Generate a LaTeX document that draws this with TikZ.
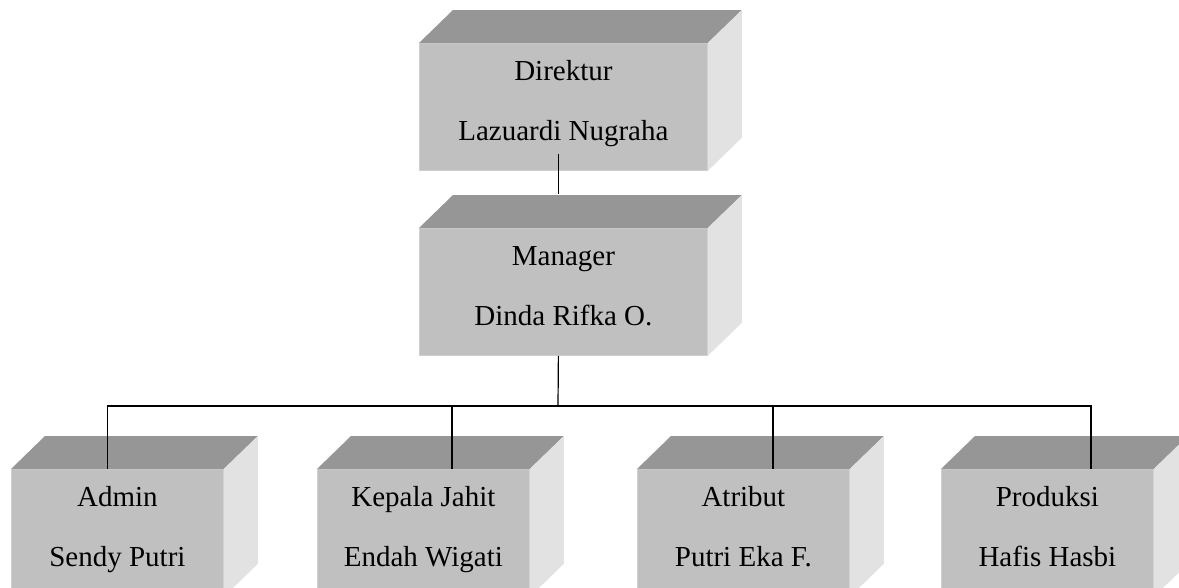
\documentclass[tikz,border=0pt]{standalone}
\usepackage{fontspec}
\setmainfont{Liberation Serif}
\definecolor{facefront}{HTML}{C0C0C0}
\definecolor{facetop}{HTML}{969696}
\definecolor{faceside}{HTML}{E2E2E2}
\definecolor{faceedge}{HTML}{CFCFCF}
\tikzset{
  % front face of a block; the depth is drawn separately
  blockfront/.style={rectangle, fill=facefront, draw=faceedge, line width=0.8pt,
    anchor=north west, inner sep=0pt},
  bigblock/.style={blockfront, minimum width=288pt, minimum height=127pt},
  smallblock/.style={blockfront, minimum width=212pt, minimum height=127pt},
  caption/.style={anchor=base, inner sep=0pt, font=\fontsize{29pt}{34pt}\selectfont},
  link/.style={draw=black, line width=1.2pt},
}
\newcommand{\blockdepth}[1]{%
  \fill[facetop] (#1.north west) -- ([shift={(34pt,33pt)}]#1.north west)
    -- ([shift={(34pt,33pt)}]#1.north east) -- (#1.north east) -- cycle;
  \fill[faceside] (#1.north east) -- ([shift={(34pt,33pt)}]#1.north east)
    -- ([shift={(34pt,33pt)}]#1.south east) -- (#1.south east) -- cycle;
}
\newcommand{\blocktext}[3]{%
  \node[caption] (#1a) at ([yshift=-37pt]#1.north) {#2};
  \node[caption] (#1b) at ([yshift=-97pt]#1.north) {#3};
}
\begin{document}
\begin{tikzpicture}[x=1pt, y=-1pt]
  \useasboundingbox (0,0) rectangle (1179,587);
  \fill[white] (0,0) rectangle (1179,587);
  \clip (0,0) rectangle (1179,587);

  % blocks
  \node[bigblock] (dir) at (419,43) {};
  \node[bigblock] (mgr) at (419,228) {};
  \node[smallblock] (adm) at (11,469) {};
  \node[smallblock] (kep) at (317,469) {};
  \node[smallblock] (atr) at (637,469) {};
  \node[smallblock] (pro) at (941,469) {};

  \blockdepth{dir}
  \blockdepth{mgr}
  \blockdepth{adm}
  \blockdepth{kep}
  \blockdepth{atr}
  \blockdepth{pro}

  % captions
  \blocktext{dir}{Direktur}{Lazuardi Nugraha}
  \blocktext{mgr}{Manager}{Dinda Rifka O.}
  \blocktext{adm}{Admin}{Sendy Putri}
  \blocktext{kep}{Kepala Jahit}{Endah Wigati}
  \blocktext{atr}{Atribut}{Putri Eka F.}
  \blocktext{pro}{Produksi}{Hafis Hasbi}

  % connectors
  \coordinate (bus) at (558,406);
  \draw[link] ([xshift=-5pt,yshift=17pt]dir.south) -- ([xshift=-5pt,yshift=34pt]mgr.north);
  \draw[link] ([xshift=-5pt]mgr.south) -- (bus);
  \draw[link] (bus) -| ([xshift=-10pt]adm.north);
  \draw[link] (bus) -| ([xshift=28.5pt]kep.north);
  \draw[link] (bus) -| ([xshift=29.5pt]atr.north);
  \draw[link] (bus) -| ([xshift=43.5pt]pro.north);
\end{tikzpicture}
\end{document}
